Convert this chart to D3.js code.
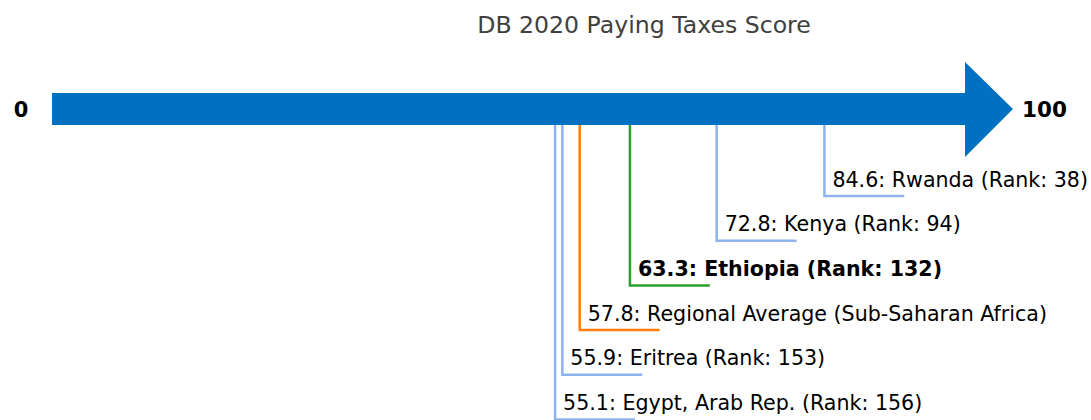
<!DOCTYPE html>
<html>
<head>
<meta charset="utf-8">
<script src="https://cdn.jsdelivr.net/npm/d3@7"></script>
<style>
  body { margin: 0; background: #fff; }
  text { font-family: 'DejaVu Sans', sans-serif; }
</style>
</head>
<body>
<div id="chart"></div>
<script>
const titleText = 'DB 2020 Paying Taxes Score';
const economies = ['Rwanda', 'Kenya', 'Ethiopia', 'Regional Average (Sub-Saharan Africa)', 'Eritrea', 'Egypt, Arab Rep.'];
const scores = [84.6, 72.8, 63.3, 57.8, 55.9, 55.1];
const ranks = [38, 94, 132, null, 153, 156];
const kinds = ['peer', 'peer', 'focus', 'region', 'peer', 'peer'];
const axisEnds = [0, 100];

const width = 1091;
const height = 420;

const colors = { peer: '#8db4ef', focus: '#2ca02c', region: '#ff7f0e' };

const xScale = d3.scaleLinear()
  .domain(axisEnds)
  .range([52, 965]);

const yScale = d3.scaleLinear()
  .domain([0, economies.length - 1])
  .range([196, 419.5]);

const barTop = 93;
const barBottom = 125;
const headTop = 62;
const headBottom = 157;
const headLen = 48;
const tickLen = 8.75; // horizontal leader length, in score units

const svg = d3.select('#chart').append('svg')
  .attr('width', width)
  .attr('height', height);

svg.append('text')
  .attr('x', 644)
  .attr('y', 33)
  .attr('text-anchor', 'middle')
  .style('font-size', '23.6px')
  .style('fill', '#404040')
  .text(titleText);

// the arrow
const x0 = xScale(axisEnds[0]);
const x1 = xScale(axisEnds[1]);
const yMid = (barTop + barBottom) / 2;
svg.append('path')
  .attr('d', `M${x0},${barTop}L${x1},${barTop}L${x1},${headTop}L${x1 + headLen},${yMid}`
    + `L${x1},${headBottom}L${x1},${barBottom}L${x0},${barBottom}Z`)
  .style('fill', '#0070c0');

svg.append('text')
  .attr('x', x0 - 31)
  .attr('y', 117)
  .attr('text-anchor', 'middle')
  .style('font-size', '21px')
  .style('font-weight', 'bold')
  .text(axisEnds[0]);

svg.append('text')
  .attr('x', x1 + headLen + 9)
  .attr('y', 117)
  .style('font-size', '21.5px')
  .style('font-weight', 'bold')
  .text(axisEnds[1]);

const rows = economies.map((name, i) => ({
  name, score: scores[i], rank: ranks[i], kind: kinds[i], i,
}));

const leader = d3.line()
  .x(d => d[0])
  .y(d => d[1]);

const g = svg.append('g');

g.selectAll('.leader')
  .data(rows)
  .enter()
  .append('path')
  .attr('class', 'leader')
  .attr('d', d => leader([
    [xScale(d.score), barBottom],
    [xScale(d.score), yScale(d.i)],
    [xScale(d.score + tickLen), yScale(d.i)],
  ]))
  .style('fill', 'none')
  .style('stroke', d => colors[d.kind])
  .style('stroke-width', '2.5px');

g.selectAll('.label')
  .data(rows)
  .enter()
  .append('text')
  .attr('class', 'label')
  .attr('x', d => xScale(d.score) + 8)
  .attr('y', d => yScale(d.i) - 9.5)
  .style('font-size', '20.6px')
  .style('font-weight', d => (d.kind === 'focus' ? 'bold' : 'normal'))
  .style('fill', '#000')
  .text(d => (d.rank === null
    ? `${d.score.toFixed(1)}: ${d.name}`
    : `${d.score.toFixed(1)}: ${d.name} (Rank: ${d.rank})`));
</script>
</body>
</html>
